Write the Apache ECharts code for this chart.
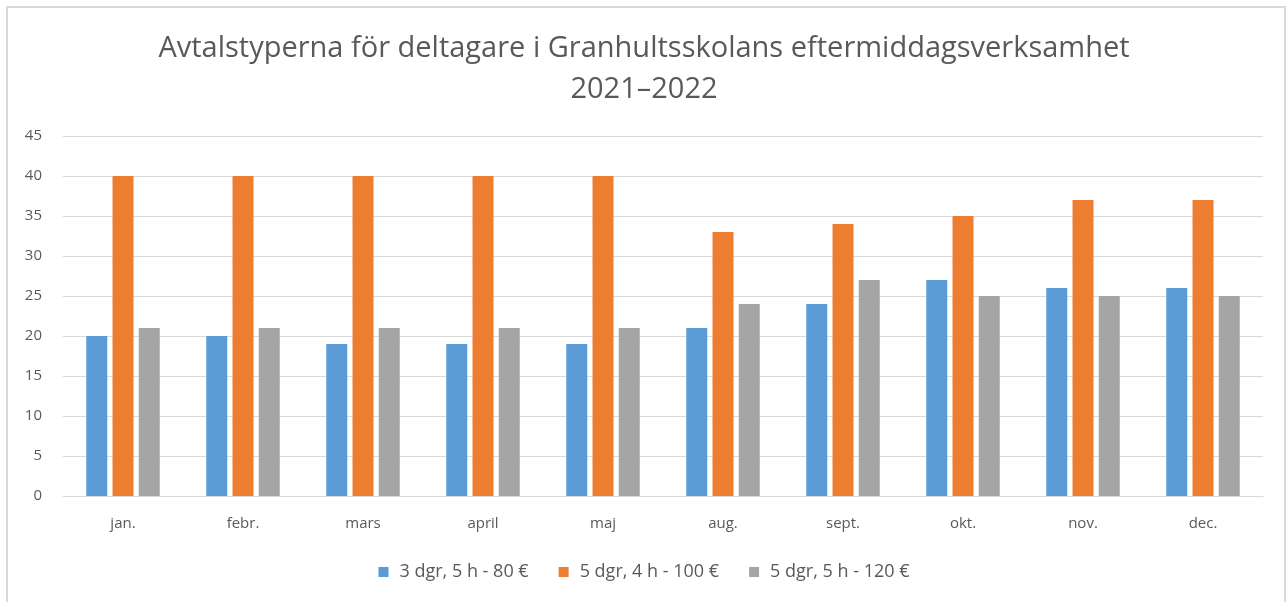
<!DOCTYPE html>
<html>
<head>
<meta charset="utf-8">
<script src="https://cdn.jsdelivr.net/npm/echarts@6/dist/echarts.min.js"></script>
<style>
html,body{margin:0;padding:0;background:#fff;}
#frame{position:absolute;left:6px;top:6px;width:1280px;height:600px;border-left:2px solid #d9d9d9;border-top:2px solid #d9d9d9;border-right:2px solid #d9d9d9;box-sizing:border-box;}
#chart{position:absolute;left:0;top:0;width:1288px;height:602px;}
</style>
</head>
<body>
<div id="frame"></div>
<div id="chart"></div>
<script>
const categories = ['jan.', 'febr.', 'mars', 'april', 'maj', 'aug.', 'sept.', 'okt.', 'nov.', 'dec.'];
const seriesNames = ['3 dgr, 5 h - 80 €', '5 dgr, 4 h - 100 €', '5 dgr, 5 h - 120 €'];
const blueValues = [20, 20, 19, 19, 19, 21, 24, 27, 26, 26];
const orangeValues = [40, 40, 40, 40, 40, 33, 34, 35, 37, 37];
const grayValues = [21, 21, 21, 21, 21, 24, 27, 25, 25, 25];
const colors = ['#5b9bd5', '#ed7d31', '#a5a5a5'];

const font = '"Open Sans", "Noto Sans", sans-serif';
const chart = echarts.init(document.getElementById('chart'), null, {renderer: 'canvas'});
chart.setOption({
  animation: false,
  color: colors,
  title: {
    text: 'Avtalstyperna för deltagare i Granhultsskolans eftermiddagsverksamhet\n2021–2022',
    left: 'center',
    top: 23,
    textStyle: {fontFamily: font, fontSize: 29, fontWeight: 'normal', color: '#595959', lineHeight: 41}
  },
  legend: {
    bottom: 16,
    left: 'center',
    itemWidth: 10, itemHeight: 10, itemGap: 30,
    icon: 'rect',
    textStyle: {fontFamily: font, fontSize: 18, color: '#595959', padding: [0, 0, 0, 6]},
    data: seriesNames
  },
  grid: {left: 63, right: 25, top: 136, bottom: 106},
  xAxis: {
    type: 'category',
    data: categories,
    axisTick: {show: false},
    axisLine: {lineStyle: {color: '#d9d9d9', width: 1}},
    axisLabel: {fontFamily: font, fontSize: 15, color: '#595959', margin: 20}
  },
  yAxis: {
    type: 'value',
    min: 0, max: 45, interval: 5,
    axisLine: {show: false},
    axisTick: {show: false},
    splitLine: {lineStyle: {color: '#d9d9d9', width: 1}},
    axisLabel: {fontFamily: font, fontSize: 15, color: '#595959', margin: 21}
  },
  series: [
    {name: seriesNames[0], type: 'bar', data: blueValues, barWidth: 21, barGap: '25%', barCategoryGap: '39%'},
    {name: seriesNames[1], type: 'bar', data: orangeValues, barWidth: 21, barGap: '25%'},
    {name: seriesNames[2], type: 'bar', data: grayValues, barWidth: 21, barGap: '25%'}
  ]
});
</script>
</body>
</html>
